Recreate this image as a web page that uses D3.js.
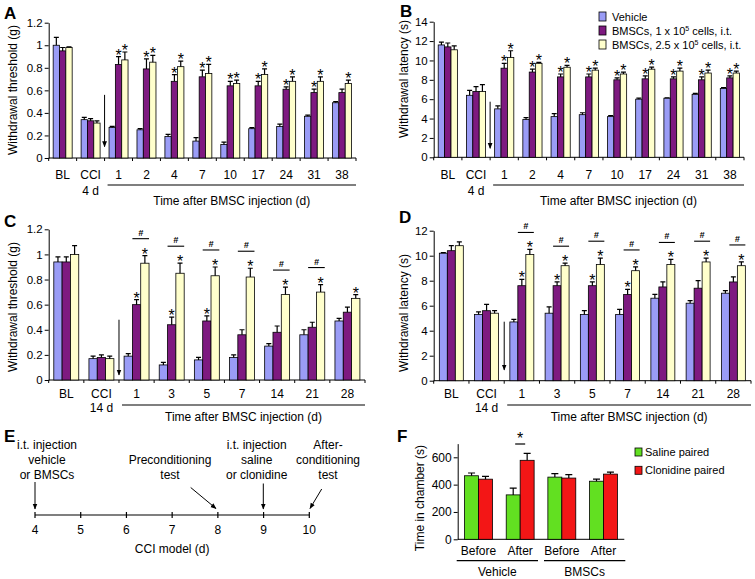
<!DOCTYPE html>
<html>
<head>
<meta charset="utf-8">
<script src="https://cdn.jsdelivr.net/npm/d3@7"></script>
<style>
  body { margin: 0; background: #fff; }
  text { font-family: Arial, "Liberation Sans", sans-serif; }
</style>
</head>
<body>
<svg id="fig" width="755" height="579"></svg>
<script>
// ---- data ----
// panel A: mechanical withdrawal threshold (g), CCI 4 d
const catsA = ["BL", "CCI", "1", "2", "4", "7", "10", "17", "24", "31", "38"];
const vehA = [1.0, 0.34, 0.27, 0.25, 0.19, 0.15, 0.12, 0.26, 0.28, 0.37, 0.49];
const vehAErr = [0.07, 0.02, 0.01, 0.01, 0.02, 0.03, 0.02, 0.01, 0.02, 0.01, 0.01];
const lowA = [0.95, 0.33, 0.83, 0.79, 0.68, 0.72, 0.64, 0.64, 0.61, 0.58, 0.58];
const lowAErr = [0.03, 0.02, 0.07, 0.09, 0.06, 0.06, 0.04, 0.04, 0.02, 0.03, 0.03];
const highA = [0.98, 0.31, 0.87, 0.85, 0.81, 0.75, 0.66, 0.74, 0.68, 0.68, 0.66];
const highAErr = [0.005, 0.02, 0.07, 0.06, 0.05, 0.08, 0.03, 0.05, 0.04, 0.04, 0.03];
const sigLowA = [0, 0, 1, 1, 1, 1, 1, 1, 1, 1, 0];
const sigHighA = [0, 0, 1, 1, 1, 1, 1, 1, 1, 1, 1];

// panel B: thermal withdrawal latency (s), CCI 4 d
const catsB = catsA;
const vehB = [11.6, 6.4, 5.0, 3.9, 4.2, 4.4, 4.2, 6.0, 6.1, 6.5, 7.1];
const vehBErr = [0.3, 0.5, 0.3, 0.2, 0.3, 0.2, 0.1, 0.1, 0.05, 0.1, 0.1];
const lowB = [11.4, 6.8, 9.2, 8.8, 8.3, 8.3, 8.0, 8.1, 8.1, 8.0, 8.2];
const lowBErr = [0.4, 0.5, 0.5, 0.3, 0.3, 0.3, 0.2, 0.3, 0.2, 0.3, 0.2];
const highB = [11.1, 6.8, 10.3, 9.7, 9.3, 9.0, 8.6, 9.1, 8.9, 8.7, 8.7];
const highBErr = [0.4, 0.7, 0.7, 0.1, 0.2, 0.2, 0.2, 0.2, 0.3, 0.3, 0.2];
const sigLowB = [0, 0, 1, 1, 1, 1, 1, 1, 1, 1, 1];
const sigHighB = [0, 0, 1, 1, 1, 1, 1, 1, 1, 1, 1];

// panel C: mechanical withdrawal threshold (g), CCI 14 d
const catsC = ["BL", "CCI", "1", "3", "5", "7", "14", "21", "28"];
const vehC = [0.94, 0.17, 0.19, 0.12, 0.16, 0.18, 0.27, 0.36, 0.47];
const vehCErr = [0.04, 0.02, 0.02, 0.02, 0.02, 0.02, 0.02, 0.04, 0.02];
const lowC = [0.94, 0.18, 0.60, 0.44, 0.47, 0.36, 0.38, 0.42, 0.54];
const lowCErr = [0.04, 0.02, 0.04, 0.06, 0.04, 0.04, 0.05, 0.04, 0.04];
const highC = [1.0, 0.17, 0.93, 0.85, 0.83, 0.82, 0.68, 0.70, 0.65];
const highCErr = [0.07, 0.02, 0.06, 0.08, 0.07, 0.07, 0.06, 0.06, 0.03];
const sigLowC = [0, 0, 1, 1, 1, 0, 0, 0, 0];
const sigHighC = [0, 0, 1, 1, 1, 1, 1, 1, 1];
const hashC = [0, 0, 1, 1, 1, 1, 1, 1, 0];

// panel D: thermal withdrawal latency (s), CCI 14 d
const catsD = catsC;
const vehD = [10.2, 5.3, 4.7, 5.4, 5.3, 5.3, 6.6, 6.2, 7.0];
const vehDErr = [0.05, 0.2, 0.2, 0.5, 0.3, 0.4, 0.3, 0.2, 0.2];
const lowD = [10.4, 5.6, 7.6, 7.6, 7.6, 6.9, 7.5, 7.4, 7.9];
const lowDErr = [0.4, 0.5, 0.5, 0.3, 0.3, 0.4, 0.4, 0.6, 0.4];
const highD = [10.8, 5.4, 10.1, 9.2, 9.3, 8.8, 9.3, 9.5, 9.2];
const highDErr = [0.3, 0.2, 0.4, 0.2, 0.5, 0.3, 0.4, 0.3, 0.3];
const sigLowD = [0, 0, 1, 1, 1, 1, 0, 0, 0];
const sigHighD = [0, 0, 1, 1, 1, 1, 1, 1, 1];
const hashD = [0, 0, 1, 1, 1, 1, 1, 1, 1];

// panel E: timeline (CCI model day)
const daysE = [4, 5, 6, 7, 8, 9, 10];

// panel F: conditioned place preference, time in chamber (s)
const catsF = ["Before", "After", "Before ", "After "];
const salineF = [465, 325, 455, 425];
const salineFErr = [20, 50, 25, 15];
const cloniF = [440, 578, 448, 477];
const cloniFErr = [20, 50, 25, 15];

const seriesNames = ["Vehicle", "BMSCs, 1 x 10|5| cells, i.t.", "BMSCs, 2.5 x 10|5| cells, i.t."];
const colVeh = "#9a9cf6", colLow = "#7e1a80", colHigh = "#ffffcc";
const colSaline = "#62e021", colClon = "#f31616";

// ---- drawing ----
const svg = d3.select("#fig");
const FONT = "Arial, 'Liberation Sans', sans-serif";

// arrowhead marker
svg.append("defs").append("marker")
    .attr("id", "ah")
    .attr("viewBox", "0 0 10 10")
    .attr("refX", 9).attr("refY", 5)
    .attr("markerWidth", 6).attr("markerHeight", 6)
    .attr("orient", "auto")
    .append("path").attr("d", "M0,1 L10,5 L0,9 Z").attr("fill", "#000");

function panelLetter(t, x, y) {
    svg.append("text").attr("x", x).attr("y", y).text(t)
        .attr("font-size", 17).attr("font-weight", 900);
}

function yTitle(t, x, y) {
    svg.append("text").attr("transform", `translate(${x},${y}) rotate(-90)`)
        .attr("text-anchor", "middle").attr("dy", "0.35em")
        .attr("font-size", 12).text(t);
}

function barPanel(o) {
    const g = svg.append("g");
    const n = o.cats.length;
    const x = d3.scaleBand().domain(o.cats).range([o.left, o.right])
        .paddingInner(o.pad).paddingOuter(o.pad / 2);
    const y = d3.scaleLinear().domain([0, o.yMax]).range([o.bottom, o.top]);
    const xs = d3.scaleBand().domain(d3.range(o.series.length)).range([0, x.bandwidth()]);
    const step = x.step();
    const bw = xs.bandwidth();

    const ya = g.append("g").attr("transform", `translate(${o.left},0)`)
        .call(d3.axisLeft(y).tickValues(o.ticks).tickSize(4).tickPadding(2).tickSizeOuter(0)
            .tickFormat(d => +d.toFixed(1)));
    ya.attr("font-family", FONT).attr("font-size", 11.5);
    ya.select(".domain").attr("stroke", "#000");

    // x axis line + boundary ticks
    g.append("line").attr("x1", o.left).attr("x2", o.right)
        .attr("y1", y(0)).attr("y2", y(0)).attr("stroke", "#000");
    g.selectAll(null).data(d3.range(n + 1)).enter().append("line")
        .attr("x1", i => o.left + i * step).attr("x2", i => o.left + i * step)
        .attr("y1", y(0)).attr("y2", y(0) + 3).attr("stroke", "#000");
    g.selectAll(null).data(o.cats).enter().append("text")
        .attr("x", c => x(c) + x.bandwidth() / 2).attr("y", o.labelY)
        .attr("text-anchor", "middle").attr("font-size", 12).text(c => c);

    o.series.forEach((s, si) => {
        const cx = c => x(c) + xs(si);
        g.selectAll(null).data(o.cats).enter().append("rect")
            .attr("x", cx).attr("y", (c, i) => y(s.vals[i]))
            .attr("width", bw).attr("height", (c, i) => y(0) - y(s.vals[i]))
            .attr("fill", s.color).attr("stroke", "#000").attr("stroke-width", 0.8);
        // error bars (upper half)
        g.selectAll(null).data(o.cats).enter().append("path")
            .attr("d", (c, i) => {
                const m = cx(c) + bw / 2, t = y(s.vals[i] + s.errs[i]);
                return `M${m},${y(s.vals[i])}V${t}M${m - 2.5},${t}H${m + 2.5}`;
            })
            .attr("stroke", "#000").attr("stroke-width", 1.2).attr("fill", "none");
        if (s.sig) {
            g.selectAll(null).data(o.cats.filter((c, i) => s.sig[i])).enter().append("text")
                .attr("x", c => cx(c) + bw / 2)
                .attr("y", c => { const i = o.cats.indexOf(c); return y(s.vals[i] + s.errs[i]) + 4; })
                .attr("text-anchor", "middle").attr("font-size", 16).text("*");
        }
    });

    // # brackets between the two BMSC doses
    if (o.hash) {
        const hi = o.series[2];
        o.cats.forEach((c, i) => {
            if (!o.hash[i]) return;
            const ly = y(hi.vals[i] + hi.errs[i]) - 17;
            const xa = x(c) + xs(1), xb = x(c) + xs(2) + bw;
            g.append("line").attr("x1", xa).attr("x2", xb).attr("y1", ly).attr("y2", ly)
                .attr("stroke", "#000").attr("stroke-width", 1.1);
            g.append("text").attr("x", (xa + xb) / 2).attr("y", ly - 3)
                .attr("text-anchor", "middle").attr("font-size", 9)
                .attr("font-style", "italic").attr("font-weight", "bold").text("#");
        });
    }

    // injection arrow between CCI and day 1
    const ax = o.left + 2 * step;
    g.append("line").attr("x1", ax).attr("x2", ax)
        .attr("y1", y(o.arrow[0])).attr("y2", y(o.arrow[1]))
        .attr("stroke", "#000").attr("stroke-width", 1).attr("marker-end", "url(#ah)");

    // second-line labels
    g.append("text").attr("x", x("CCI") + x.bandwidth() / 2).attr("y", o.subY)
        .attr("text-anchor", "middle").attr("font-size", 12).text(o.sub);
    const lx0 = o.left + 2 * step + 3;
    g.append("line").attr("x1", lx0).attr("x2", o.right)
        .attr("y1", o.lineY).attr("y2", o.lineY).attr("stroke", "#000").attr("stroke-width", 1.2);
    g.append("text").attr("x", (lx0 + o.right) / 2).attr("y", o.titleY)
        .attr("text-anchor", "middle").attr("font-size", 12).text("Time after BMSC injection (d)");
}

function series3(v, ve, l, le, s1, h, he, s2) {
    return [
        { vals: v, errs: ve, color: colVeh },
        { vals: l, errs: le, sig: s1, color: colLow },
        { vals: h, errs: he, sig: s2, color: colHigh }
    ];
}

// A
panelLetter("A", 4, 19);
yTitle("Withdrawal threshold (g)", 13, 90);
barPanel({
    cats: catsA, series: series3(vehA, vehAErr, lowA, lowAErr, sigLowA, highA, highAErr, sigHighA),
    left: 48.7, right: 356, top: 22.7, bottom: 158, yMax: 1.2, ticks: d3.range(0, 1.21, 0.2), pad: 0.32,
    arrow: [0.56, 0.1], labelY: 178.5, sub: "4 d", subY: 194.5, lineY: 185, titleY: 204.5
});

// B
panelLetter("B", 400, 17);
yTitle("Withdrawal latency (s)", 404, 79);
barPanel({
    cats: catsB, series: series3(vehB, vehBErr, lowB, lowBErr, sigLowB, highB, highBErr, sigHighB),
    left: 433.7, right: 744, top: 21.7, bottom: 157.3, yMax: 14, ticks: d3.range(0, 15, 2), pad: 0.32,
    arrow: [5.74, 0.93], labelY: 178.5, sub: "4 d", subY: 194.5, lineY: 185, titleY: 204.5
});

// C
panelLetter("C", 4, 227);
yTitle("Withdrawal threshold (g)", 13, 307);
barPanel({
    cats: catsC, series: series3(vehC, vehCErr, lowC, lowCErr, sigLowC, highC, highCErr, sigHighC),
    hash: hashC,
    left: 48.7, right: 365, top: 229.3, bottom: 380, yMax: 1.2, ticks: d3.range(0, 1.21, 0.2), pad: 0.29,
    arrow: [0.48, 0.04], labelY: 397.5, sub: "14 d", subY: 411.5, lineY: 405, titleY: 420.5
});

// D
panelLetter("D", 399, 223);
yTitle("Withdrawal latency (s)", 404, 313);
barPanel({
    cats: catsD, series: series3(vehD, vehDErr, lowD, lowDErr, sigLowD, highD, highDErr, sigHighD),
    hash: hashD,
    left: 433.7, right: 751, top: 230.7, bottom: 380.7, yMax: 12, ticks: d3.range(0, 13, 2), pad: 0.32,
    arrow: [4.72, 0.86], labelY: 397.5, sub: "14 d", subY: 411.5, lineY: 405, titleY: 420.5
});

// legend (panel B)
seriesNames.forEach((nm, i) => {
    const ly = 16.5 + i * 14;
    svg.append("rect").attr("x", 599).attr("y", ly - 4.5).attr("width", 7).attr("height", 9)
        .attr("fill", [colVeh, colLow, colHigh][i]).attr("stroke", "#000").attr("stroke-width", 0.8);
    const t = svg.append("text").attr("x", 612).attr("y", ly + 4).attr("font-size", 11);
    nm.split("|").forEach((part, k) => {
        if (k === 1) t.append("tspan").attr("font-size", 7).attr("dy", -4).text(part);
        else if (k === 2) t.append("tspan").attr("dy", 4).text(part);
        else t.append("tspan").text(part);
    });
});

// E: timeline
panelLetter("E", 4, 442);
const xe = d3.scaleLinear().domain([4, 10]).range([35, 309.3]);
const lineE = 515;
svg.append("line").attr("x1", xe(4)).attr("x2", xe(10)).attr("y1", lineE).attr("y2", lineE)
    .attr("stroke", "#000").attr("stroke-width", 1.2);
svg.selectAll(null).data(daysE).enter().append("line")
    .attr("x1", d => xe(d)).attr("x2", d => xe(d)).attr("y1", lineE - 3).attr("y2", lineE + 3)
    .attr("stroke", "#000").attr("stroke-width", 1.2);
svg.selectAll(null).data(daysE).enter().append("text")
    .attr("x", d => xe(d)).attr("y", lineE + 19).attr("text-anchor", "middle")
    .attr("font-size", 12).text(d => d);
svg.append("text").attr("x", xe(7)).attr("y", lineE + 38).attr("text-anchor", "middle")
    .attr("font-size", 12).text("CCI model (d)");

const notesE = [
    { lines: ["i.t. injection", "vehicle", "or BMSCs"], cx: 47, top: 449, from: [35, 482], to: [35, 509] },
    { lines: ["", "Preconditioning", "test"], cx: 170, top: 449, from: [190.7, 487.5], to: [216, 508.5] },
    { lines: ["i.t. injection", "saline", "or clonidine"], cx: 256.7, top: 449, from: [263.3, 483.5], to: [263.3, 509] },
    { lines: ["After-", "conditioning", "test"], cx: 328, top: 449, from: [321.7, 489], to: [310, 508.5] }
];
notesE.forEach(nt => {
    const t = svg.append("text").attr("text-anchor", "middle").attr("font-size", 12);
    nt.lines.forEach((ln, k) => {
        t.append("tspan").attr("x", nt.cx).attr("y", nt.top + k * 15).text(ln);
    });
    svg.append("line").attr("x1", nt.from[0]).attr("y1", nt.from[1])
        .attr("x2", nt.to[0]).attr("y2", nt.to[1])
        .attr("stroke", "#000").attr("stroke-width", 1).attr("marker-end", "url(#ah)");
});

// F: place preference
panelLetter("F", 397, 442);
yTitle("Time in chamber (s)", 420, 498);
(function () {
    const left = 457.7, right = 624.3, bottom = 539.3;
    const x = d3.scaleBand().domain(catsF).range([left, right]).paddingInner(0.33).paddingOuter(0.165);
    const y = d3.scaleLinear().domain([0, 700]).range([bottom, bottom - 700 / 600 * 82]);
    const xs = d3.scaleBand().domain([0, 1]).range([0, x.bandwidth()]);
    const bw = xs.bandwidth();
    const ya = svg.append("g").attr("transform", `translate(${left},0)`)
        .call(d3.axisLeft(y).tickValues([0, 200, 400, 600]).tickSize(4).tickPadding(2).tickSizeOuter(0));
    ya.attr("font-family", FONT).attr("font-size", 12);
    svg.append("line").attr("x1", left).attr("x2", right).attr("y1", bottom).attr("y2", bottom)
        .attr("stroke", "#000");
    const ser = [
        { vals: salineF, errs: salineFErr, color: colSaline },
        { vals: cloniF, errs: cloniFErr, color: colClon }
    ];
    ser.forEach((s, si) => {
        const cx = c => x(c) + xs(si);
        svg.selectAll(null).data(catsF).enter().append("rect")
            .attr("x", cx).attr("y", (c, i) => y(s.vals[i]))
            .attr("width", bw).attr("height", (c, i) => bottom - y(s.vals[i]))
            .attr("fill", s.color).attr("stroke", "#000").attr("stroke-width", 0.8);
        svg.selectAll(null).data(catsF).enter().append("path")
            .attr("d", (c, i) => {
                const m = cx(c) + bw / 2, t = y(s.vals[i] + s.errs[i]);
                return `M${m},${y(s.vals[i])}V${t}M${m - 3.5},${t}H${m + 3.5}`;
            })
            .attr("stroke", "#000").attr("stroke-width", 1.2).attr("fill", "none");
    });
    svg.selectAll(null).data(catsF).enter().append("text")
        .attr("x", c => x(c) + x.bandwidth() / 2).attr("y", 555)
        .attr("text-anchor", "middle").attr("font-size", 12).text(c => c.trim());
    // significance over "After" vehicle
    const sc = x(catsF[1]) + x.bandwidth() / 2;
    svg.append("line").attr("x1", sc - 5).attr("x2", sc + 5).attr("y1", 444).attr("y2", 444)
        .attr("stroke", "#000").attr("stroke-width", 1.2);
    svg.append("text").attr("x", sc).attr("y", 444).attr("text-anchor", "middle")
        .attr("font-size", 16).text("*");
    // group lines
    const step = x.step();
    [["Vehicle", 0], ["BMSCs", 2]].forEach(([nm, k]) => {
        const a = left + k * step - 1 + (k ? 4 : 0), b = left + (k + 2) * step - (k ? -1 : 3);
        svg.append("line").attr("x1", a).attr("x2", b).attr("y1", 560.7).attr("y2", 560.7)
            .attr("stroke", "#000").attr("stroke-width", 1.2);
        svg.append("text").attr("x", (a + b) / 2).attr("y", 576).attr("text-anchor", "middle")
            .attr("font-size", 12).text(nm);
    });
    // legend
    [["Saline paired", colSaline], ["Clonidine paired", colClon]].forEach(([nm, col], i) => {
        const ly = 452 + i * 18.3;
        svg.append("rect").attr("x", 635).attr("y", ly - 4).attr("width", 7).attr("height", 8)
            .attr("fill", col).attr("stroke", "#000").attr("stroke-width", 0.8);
        svg.append("text").attr("x", 645).attr("y", ly + 4).attr("font-size", 11).text(nm);
    });
})();
</script>
</body>
</html>
